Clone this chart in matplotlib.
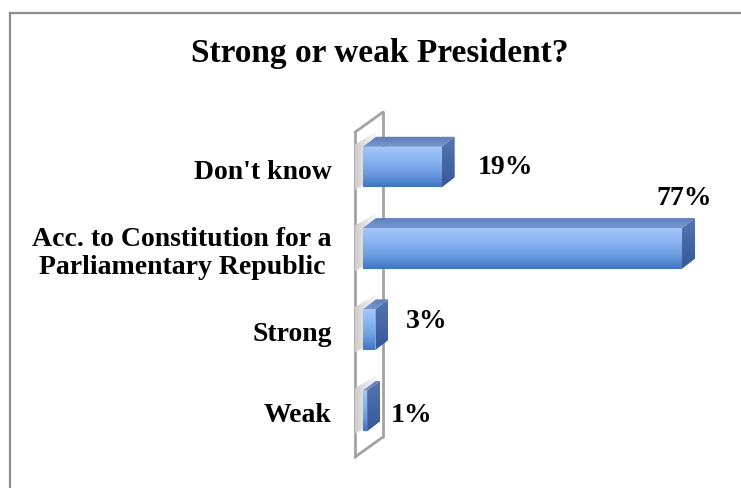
import matplotlib
matplotlib.use("Agg")
import matplotlib.pyplot as plt
import numpy as np
from matplotlib.patches import Polygon
from matplotlib.lines import Line2D
from matplotlib.colors import LinearSegmentedColormap

# ---------------- data ----------------
categories = ["Weak", "Strong",
              "Acc. to Constitution for a\nParliamentary Republic", "Don't know"]
values = [1, 3, 77, 19]
value_labels = ["1%", "3%", "77%", "19%"]
title = "Strong or weak President?"

# ---------------- style ----------------
FONT = "Liberation Serif"
W, H = 741, 488
PX = 4.143          # pixels per percent
PY = 81.3           # pixels per category step
X0PX, Y0PX = 363, 411
BAR_H = 0.5
BDX, BDY = 13 / PX, 10 / PY            # bar depth
WFX = -8 / PX                          # wall front x
WDX, WDY = 28 / PX, 20 / PY            # wall depth
WALL_BOTTOM, WALL_TOP = -0.566, 3.43
LABEL_X = -31 / PX
label_offsets = [(10.8, -0.05), (12.4, 0.095), (0.5, 0.61), (15.3, 0.0)]

fig = plt.figure(figsize=(W / 100, H / 100), dpi=100)
ax = fig.add_axes([0, 0, 1, 1])
ax.axis("off")


def grad_poly(verts, colors, z, horizontal=False):
    poly = Polygon(verts, closed=True, facecolor="none", edgecolor="none", zorder=z)
    ax.add_patch(poly)
    xs = [v[0] for v in verts]
    ys = [v[1] for v in verts]
    cmap = LinearSegmentedColormap.from_list("g", colors)
    if horizontal:
        data = np.linspace(0, 1, 256).reshape(1, -1)
    else:
        data = np.linspace(0, 1, 256).reshape(-1, 1)
    im = ax.imshow(data, cmap=cmap, extent=(min(xs), max(xs), min(ys), max(ys)),
                   origin="upper", aspect="auto", interpolation="bilinear", zorder=z)
    im.set_clip_path(poly)


# wall
wall_col = "#a3a3a3"
wlw = 2.0
wb, wt = WALL_BOTTOM, WALL_TOP
for (xa, ya, xb, yb) in [
    (WFX, wb, WFX, wt),
    (WFX, wt, WFX + WDX, wt + WDY),
    (WFX + WDX, wb + WDY, WFX + WDX, wt + WDY),
    (WFX, wb, WFX + WDX, wb + WDY),
]:
    ax.plot([xa, xb], [ya, yb], color=wall_col, lw=wlw, zorder=1,
            solid_capstyle="round")

# soft shadows on the wall
for i, v in enumerate(values):
    sh = [(WFX, i - BAR_H / 2 - 0.03), (BDX, i - BAR_H / 2 + BDY),
          (BDX, i + BAR_H / 2 + BDY + 0.06), (WFX, i + BAR_H / 2 + 0.03)]
    grad_poly(sh, ["#cdcdcd", "#e3e3e3", "#f6f6f6"], 1.5, horizontal=True)

# bars
front_cols = ["#a4c7fb", "#8ab3f1", "#6b9ce1", "#3f74c2"]
top_cols = ["#5d7fbc", "#7595cd"]
side_cols = ["#5676b0", "#36589a"]
for i, v in enumerate(values):
    lo, hi = i - BAR_H / 2, i + BAR_H / 2
    front = [(0, lo), (v, lo), (v, hi), (0, hi)]
    top = [(0, hi), (v, hi), (v + BDX, hi + BDY), (BDX, hi + BDY)]
    side = [(v, lo), (v + BDX, lo + BDY), (v + BDX, hi + BDY), (v, hi)]
    grad_poly(top, top_cols, 3)
    grad_poly(side, side_cols, 3)
    grad_poly(front, front_cols, 3)

# category labels
for i, c in enumerate(categories):
    ax.text(LABEL_X, i - 5 / PY, c, ha="right", va="center", multialignment="center",
            fontsize=20, fontweight="bold", family=FONT, color="black",
            linespacing=1.2, zorder=5)

# value labels
for i, (v, lab) in enumerate(zip(values, value_labels)):
    dx, dy = label_offsets[i]
    ax.text(v + dx, i + dy, lab, ha="center", va="center", fontsize=20,
            fontweight="bold", family=FONT, color="black", zorder=5)

ax.set_xlim(-X0PX / PX, (W - X0PX) / PX)
ax.set_ylim((Y0PX - H) / PY, Y0PX / PY)

# title
fig.text(379.5 / W, 1 - 62 / H, title, ha="center", va="baseline", fontsize=24,
         fontweight="bold", family=FONT, color="black")

# chart border (left & top visible)
fig.add_artist(Line2D([10 / W, 10 / W], [0, 1 - 13 / H], transform=fig.transFigure,
                      color="#8c8c8c", lw=1.6))
fig.add_artist(Line2D([10 / W, 1], [1 - 13 / H, 1 - 13 / H], transform=fig.transFigure,
                      color="#8c8c8c", lw=1.6))

fig.savefig("out.png", dpi=100)
